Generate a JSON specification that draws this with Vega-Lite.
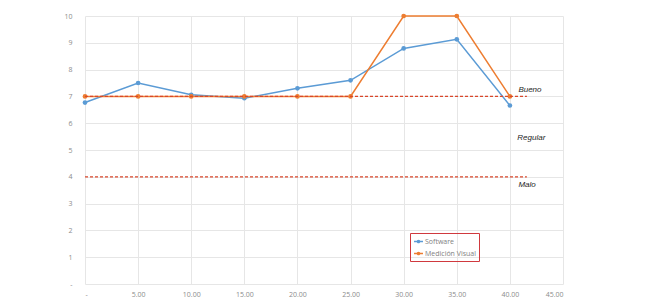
{
  "$schema": "https://vega.github.io/schema/vega-lite/v6.json",
  "width": 478,
  "height": 268,
  "autosize": "none",
  "padding": {"left": 85, "top": 16, "right": 85, "bottom": 23},
  "background": "white",
  "config": {
    "view": {"stroke": null},
    "font": "Open Sans",
    "axis": {"gridColor": "#e6e6e6", "gridWidth": 1, "ticks": false, "domain": false, "labelColor": "#8c8c8c", "labelFontSize": 7, "title": null, "labelOverlap": false}
  },
  "datasets": {
    "main": [
      {"x": 0, "value": 6.77, "series": "Software"},
      {"x": 5, "value": 7.5, "series": "Software"},
      {"x": 10, "value": 7.06, "series": "Software"},
      {"x": 15, "value": 6.93, "series": "Software"},
      {"x": 20, "value": 7.3, "series": "Software"},
      {"x": 25, "value": 7.6, "series": "Software"},
      {"x": 30, "value": 8.79, "series": "Software"},
      {"x": 35, "value": 9.13, "series": "Software"},
      {"x": 40, "value": 6.66, "series": "Software"},
      {"x": 0, "value": 7, "series": "Medición Visual"},
      {"x": 5, "value": 7, "series": "Medición Visual"},
      {"x": 10, "value": 7, "series": "Medición Visual"},
      {"x": 15, "value": 7, "series": "Medición Visual"},
      {"x": 20, "value": 7, "series": "Medición Visual"},
      {"x": 25, "value": 7, "series": "Medición Visual"},
      {"x": 30, "value": 10, "series": "Medición Visual"},
      {"x": 35, "value": 10, "series": "Medición Visual"},
      {"x": 40, "value": 7, "series": "Medición Visual"}
    ],
    "refs": [
      {"x": 0, "x2": 41.6, "y": 7},
      {"x": 0, "x2": 41.6, "y": 4}
    ],
    "labels": [
      {"x": 40.8, "y": 7.25, "label": "Bueno"},
      {"x": 40.7, "y": 5.45, "label": "Regular"},
      {"x": 40.8, "y": 3.68, "label": "Malo"}
    ]
  },
  "layer": [
    {
      "data": {"name": "main"},
      "mark": {"type": "line", "strokeWidth": 1.5, "point": {"size": 22, "filled": true}},
      "encoding": {
        "x": {"field": "x", "type": "quantitative", "scale": {"domain": [0, 45], "nice": false},
              "axis": {"values": [0, 5, 10, 15, 20, 25, 30, 35, 40, 45], "labelExpr": "datum.value == 0 ? '-' : format(datum.value, '.2f')", "labelPadding": 6}},
        "y": {"field": "value", "type": "quantitative", "scale": {"domain": [0, 10], "nice": false},
              "axis": {"values": [0, 1, 2, 3, 4, 5, 6, 7, 8, 9, 10], "labelExpr": "datum.value == 0 ? '-' : datum.label", "labelPadding": 13}},
        "color": {"field": "series", "type": "nominal",
                  "scale": {"domain": ["Software", "Medición Visual"], "range": ["#5B9BD5", "#ED7D31"]},
                  "legend": {"title": null, "orient": "none", "legendX": 325, "legendY": 217,
                             "strokeColor": "#D0393E", "padding": 3, "labelFontSize": 7, "labelColor": "#7f7f7f",
                             "symbolType": "M-1,0L1,0M-0.25,0A0.25,0.25 0 1,1 0.25,0A0.25,0.25 0 1,1 -0.25,0",
                             "symbolSize": 80, "symbolStrokeWidth": 1.5, "rowPadding": 2, "labelOffset": 1}},
        "order": {"field": "x"}
      }
    },
    {
      "data": {"name": "refs"},
      "mark": {"type": "rule", "color": "#D9472B", "strokeDash": [3, 2], "strokeWidth": 1.2},
      "encoding": {
        "x": {"field": "x", "type": "quantitative",
              "axis": {"values": [0, 5, 10, 15, 20, 25, 30, 35, 40, 45], "labelExpr": "datum.value == 0 ? '-' : format(datum.value, '.2f')", "labelPadding": 6}},
        "x2": {"field": "x2"},
        "y": {"field": "y", "type": "quantitative",
              "axis": {"values": [0, 1, 2, 3, 4, 5, 6, 7, 8, 9, 10], "labelExpr": "datum.value == 0 ? '-' : datum.label", "labelPadding": 13}}
      }
    },
    {
      "data": {"name": "labels"},
      "mark": {"type": "text", "align": "left", "baseline": "middle", "fontStyle": "italic", "fontSize": 8, "color": "#262626", "font": "Liberation Sans"},
      "encoding": {
        "x": {"field": "x", "type": "quantitative",
              "axis": {"values": [0, 5, 10, 15, 20, 25, 30, 35, 40, 45], "labelExpr": "datum.value == 0 ? '-' : format(datum.value, '.2f')", "labelPadding": 6}},
        "y": {"field": "y", "type": "quantitative",
              "axis": {"values": [0, 1, 2, 3, 4, 5, 6, 7, 8, 9, 10], "labelExpr": "datum.value == 0 ? '-' : datum.label", "labelPadding": 13}},
        "text": {"field": "label"}
      }
    }
  ]
}
